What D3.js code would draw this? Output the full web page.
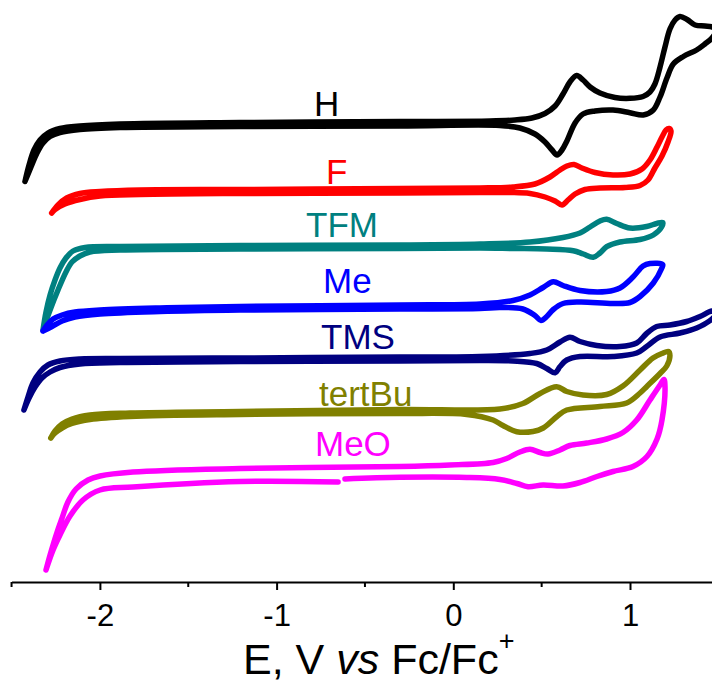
<!DOCTYPE html>
<html><head><meta charset="utf-8">
<script src="https://cdn.jsdelivr.net/npm/d3@7"></script>
<style>html,body{margin:0;padding:0;background:#fff;} svg{display:block;}</style>
</head><body>
<svg id="chart" width="712" height="684"></svg>
<script>
// ---- data: potential E (V vs Fc/Fc+), current I (arbitrary units, stacked) ----
const seriesNames = ["H", "F", "TFM", "Me", "TMS", "tertBu", "MeO"];

const cvH = [[-2.424,40.05],[-2.401,41.7],[-2.373,43.2],[-2.339,44.2],[-2.294,44.9],[-2.226,45.35],[-2.113,45.6],[-1.886,45.8],[-1.207,45.95],[-0.302,46.05],[0.208,46.1],[0.349,46.2],[0.445,46.4],[0.519,46.85],[0.576,47.6],[0.621,48.8],[0.660,50.0],[0.698,50.65],[0.734,50.2],[0.774,49.5],[0.830,48.9],[0.915,48.45],[1.000,48.37],[1.074,48.55],[1.113,49.0],[1.141,49.8],[1.170,51.5],[1.198,53.5],[1.226,55.3],[1.255,56.2],[1.283,56.55],[1.323,56.25],[1.368,55.7],[1.424,55.6],[1.464,55.5],[1.487,55.2],[1.464,54.4],[1.424,53.8],[1.377,53.2],[1.302,52.55],[1.245,51.8],[1.209,50.4],[1.170,48.5],[1.132,47.2],[1.075,46.7],[1.000,46.93],[0.904,47.2],[0.802,47.1],[0.734,46.8],[0.689,45.9],[0.643,44.1],[0.615,43.2],[0.587,42.7],[0.559,43.2],[0.519,44.0],[0.462,44.8],[0.377,45.4],[0.264,45.65],[-0.302,45.6],[-1.207,45.55],[-1.886,45.45],[-2.113,45.25],[-2.226,44.95],[-2.282,44.55],[-2.322,43.9],[-2.356,42.9],[-2.390,41.5],[-2.424,40.05]];

const cvF = [[-2.273,36.9],[-2.237,37.7],[-2.188,38.4],[-2.113,38.85],[-1.999,39.05],[-1.773,39.2],[-1.207,39.25],[-0.302,39.35],[0.151,39.4],[0.338,39.5],[0.462,39.8],[0.547,40.5],[0.604,41.2],[0.643,41.6],[0.683,41.75],[0.728,41.4],[0.802,40.95],[0.904,40.7],[1.000,40.8],[1.068,41.3],[1.113,42.2],[1.153,43.5],[1.181,44.5],[1.204,45.2],[1.221,45.35],[1.232,45.1],[1.215,44.0],[1.181,42.6],[1.141,41.4],[1.102,40.2],[1.057,39.65],[0.972,39.45],[0.830,39.4],[0.745,39.25],[0.689,38.8],[0.649,38.2],[0.615,37.7],[0.576,38.1],[0.519,38.5],[0.434,38.85],[0.321,38.95],[0.151,38.95],[-0.302,38.9],[-1.207,38.85],[-1.773,38.75],[-1.999,38.6],[-2.113,38.25],[-2.198,37.8],[-2.254,37.25],[-2.273,36.9]];

const cvTFM = [[-2.322,25.2],[-2.305,27.0],[-2.282,28.7],[-2.254,30.2],[-2.226,31.4],[-2.192,32.4],[-2.152,33.1],[-2.084,33.45],[-1.886,33.55],[-1.207,33.65],[-0.302,33.7],[0.151,33.8],[0.434,34.0],[0.621,34.45],[0.717,34.9],[0.774,35.5],[0.830,36.1],[0.868,36.27],[0.925,35.85],[1.000,35.4],[1.094,35.55],[1.151,35.85],[1.185,35.95],[1.179,35.5],[1.132,34.7],[1.057,34.25],[0.943,34.0],[0.868,33.53],[0.830,32.9],[0.792,32.47],[0.736,32.8],[0.679,33.13],[0.529,33.3],[0.338,33.35],[0.151,33.4],[-0.302,33.35],[-1.207,33.3],[-1.886,33.2],[-2.056,33.0],[-2.113,32.6],[-2.158,32.0],[-2.192,31.0],[-2.237,29.2],[-2.282,27.2],[-2.322,25.2]];

const cvMe = [[-2.322,25.1],[-2.299,25.7],[-2.265,26.3],[-2.214,26.7],[-2.141,27.0],[-1.999,27.2],[-1.660,27.4],[-1.207,27.55],[-0.302,27.7],[0.151,27.8],[0.338,28.15],[0.434,28.7],[0.508,29.45],[0.566,30.03],[0.621,29.65],[0.717,29.15],[0.868,29.05],[0.943,29.4],[1.017,30.5],[1.074,31.6],[1.113,31.85],[1.185,31.75],[1.179,31.35],[1.132,29.9],[1.057,28.55],[1.000,27.95],[0.904,27.85],[0.717,28.0],[0.621,27.85],[0.566,27.25],[0.529,26.55],[0.496,26.15],[0.462,26.65],[0.394,27.3],[0.264,27.45],[0.151,27.35],[-0.302,27.3],[-1.207,27.2],[-1.660,27.05],[-1.999,26.8],[-2.141,26.5],[-2.214,26.1],[-2.271,25.55],[-2.322,25.1]];

const cvTMS = [[-2.430,17.2],[-2.407,18.5],[-2.379,19.9],[-2.339,21.0],[-2.294,21.7],[-2.226,22.1],[-2.113,22.3],[-1.886,22.35],[-1.207,22.4],[-0.302,22.5],[0.151,22.55],[0.434,22.85],[0.529,23.2],[0.604,24.0],[0.660,24.47],[0.717,24.05],[0.812,23.65],[0.943,23.55],[1.038,23.9],[1.094,24.85],[1.151,25.55],[1.226,25.7],[1.321,26.05],[1.396,26.55],[1.464,27.1],[1.498,27.0],[1.464,26.3],[1.377,25.4],[1.283,24.9],[1.170,24.5],[1.094,23.55],[1.038,22.9],[0.904,22.55],[0.717,22.55],[0.642,22.2],[0.604,21.55],[0.576,20.93],[0.529,21.35],[0.472,21.85],[0.338,22.1],[0.151,22.15],[-0.302,22.1],[-1.207,22.05],[-1.886,21.95],[-2.113,21.8],[-2.226,21.45],[-2.282,21.0],[-2.328,20.4],[-2.367,19.5],[-2.401,18.4],[-2.430,17.2]];

const cvTertBu = [[-2.278,14.4],[-2.254,15.1],[-2.214,15.8],[-2.158,16.3],[-2.056,16.7],[-1.830,16.9],[-1.207,17.05],[-0.302,17.25],[0.264,17.3],[0.394,17.85],[0.491,18.85],[0.585,19.53],[0.642,19.05],[0.734,18.7],[0.868,18.75],[0.960,19.6],[1.057,21.2],[1.130,22.4],[1.181,22.85],[1.218,23.05],[1.226,22.65],[1.208,21.6],[1.170,20.85],[1.094,19.53],[1.057,18.9],[0.981,17.9],[0.830,17.55],[0.642,17.2],[0.585,16.53],[0.509,15.4],[0.451,15.05],[0.359,15.03],[0.281,15.65],[0.225,16.2],[0.076,16.75],[-0.302,16.85],[-1.207,16.75],[-1.830,16.55],[-2.056,16.25],[-2.158,15.85],[-2.214,15.4],[-2.254,14.9],[-2.278,14.4]];

const cvMeO = [[-2.305,1.2],[-2.282,2.7],[-2.244,4.9],[-2.214,6.4],[-2.181,8.0],[-2.135,9.3],[-2.067,10.2],[-1.999,10.6],[-1.813,11.0],[-1.207,11.35],[-0.302,11.55],[-0.019,11.7],[0.225,11.95],[0.302,12.35],[0.377,13.0],[0.434,13.27],[0.491,12.95],[0.536,12.8],[0.604,13.2],[0.660,13.65],[0.755,13.9],[0.868,14.3],[0.960,14.95],[1.038,16.2],[1.113,18.2],[1.170,19.7],[1.192,20.25],[1.198,19.6],[1.181,16.2],[1.153,14.3],[1.096,12.55],[1.017,11.55],[0.904,11.05],[0.813,10.55],[0.717,9.95],[0.621,9.6],[0.508,9.7],[0.423,9.53],[0.360,9.85],[0.264,10.25],[0.076,10.45],[-0.302,10.47],[-0.613,10.3],[-0.630,null],[-0.652,10.0],[-1.207,10.05],[-1.813,9.5],[-1.999,9.2],[-2.096,8.2],[-2.169,6.6],[-2.226,4.7],[-2.265,3.2],[-2.305,1.2]];

const xTicks = [-2, -1, 0, 1];
const xMinorTicks = [-2.5, -1.5, -0.5, 0.5];
const xDomain = [-2.5, 1.5];
const yDomain = [0, 58.2];

// ---- layout / style ----
const seriesData = [cvH, cvF, cvTFM, cvMe, cvTMS, cvTertBu, cvMeO];
const colors = ["#000000", "#ff0000", "#008080", "#0000ff", "#000080", "#808000", "#ff00ff"];
const labelAt = [[314, 116], [326, 184], [306, 236.5], [323, 293], [321, 348.5], [319, 406], [315, 456]];
const font = "'Liberation Sans', Arial, Helvetica, sans-serif";

const svg = d3.select("#chart");
svg.append("rect").attr("width", 712).attr("height", 684).attr("fill", "#fff");

const x = d3.scaleLinear().domain(xDomain).range([11.55, 718.35]);
const y = d3.scaleLinear().domain(yDomain).range([582, 0]);

const line = d3.line()
  .defined(d => d[1] != null)
  .x(d => x(d[0])).y(d => y(d[1]))
  .curve(d3.curveCatmullRom.alpha(0.5));

const g = svg.append("g");
seriesData.forEach((data, i) => {
  g.append("path")
    .attr("d", line(data))
    .attr("fill", "none")
    .attr("stroke", colors[i])
    .attr("stroke-width", 5.5)
    .attr("stroke-linecap", "round")
    .attr("stroke-linejoin", "round");
});

seriesNames.forEach((name, i) => {
  svg.append("text")
    .attr("x", labelAt[i][0]).attr("y", labelAt[i][1])
    .attr("font-family", font).attr("font-size", 35)
    .attr("fill", colors[i])
    .text(name);
});

// x axis
const axisY = 582;
const axisG = svg.append("g").attr("transform", `translate(0,${axisY})`)
  .call(d3.axisBottom(x).tickValues(xTicks).tickSize(8).tickSizeOuter(0).tickFormat(d => String(d)));
axisG.select(".domain").attr("stroke", "#000").attr("stroke-width", 2);
axisG.selectAll(".tick line").attr("stroke", "#000").attr("stroke-width", 2);
axisG.selectAll(".tick text")
  .attr("font-family", font).attr("font-size", 31).attr("fill", "#000")
  .attr("y", 44).attr("dy", 0);

svg.append("g").attr("transform", `translate(0,${axisY})`)
  .selectAll("line").data(xMinorTicks).join("line")
  .attr("x1", d => x(d)).attr("x2", d => x(d))
  .attr("y1", 0).attr("y2", 5)
  .attr("stroke", "#000").attr("stroke-width", 2);

// axis title
const title = svg.append("text")
  .attr("x", 243).attr("y", 674)
  .attr("font-family", font).attr("font-size", 43).attr("fill", "#000");
title.append("tspan").text("E, V ");
title.append("tspan").attr("font-style", "italic").text("vs");
title.append("tspan").text(" Fc/Fc");
title.append("tspan").attr("font-size", 27).attr("dy", -24).text("+");
</script>
</body></html>
